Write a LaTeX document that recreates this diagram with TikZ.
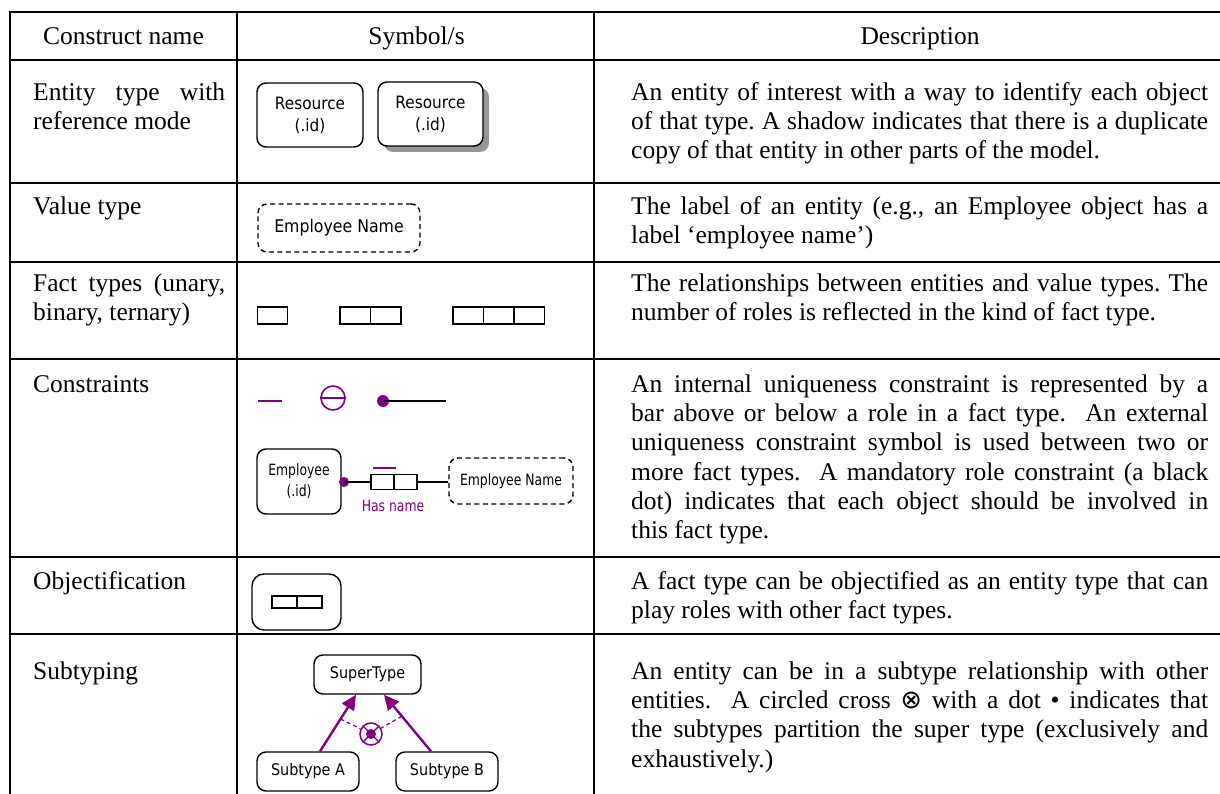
\documentclass[tikz,border=0pt]{standalone}
\usepackage{fontspec}
\setmainfont{Liberation Serif}
\newfontfamily\symf{DejaVu Sans}
\newfontfamily\symn[FakeStretch=0.9]{DejaVu Sans}
\newfontfamily\symc[FakeStretch=0.8]{DejaVu Sans}
\usetikzlibrary{arrows.meta,calc,shadows}
\definecolor{orm}{RGB}{128,0,128}
\definecolor{shade}{RGB}{150,150,150}
\begin{document}
\frenchspacing
\begin{tikzpicture}[x=1pt,y=-1pt,
  tabrule/.style={line width=2.4pt},
  txt/.style={font=\fontsize{25.5}{29.3}\selectfont\frenchspacing, inner sep=0pt},
  hdr/.style={txt, anchor=base},
  cellbox/.style={txt, anchor=north west, align=justify},
  namecell/.style={cellbox, text width=192pt},
  desccell/.style={cellbox, text width=577pt},
  objbox/.style={draw, line width=1.4pt, rounded corners=9pt, inner sep=0pt, align=center},
  ent/.style={objbox, font=\symn\fontsize{17}{22}\selectfont},
  entc/.style={objbox, font=\symc\fontsize{15.5}{21}\selectfont},
  entsub/.style={objbox, font=\symn\fontsize{16}{19}\selectfont},
  valt/.style={objbox, font=\symn\fontsize{17.5}{21}\selectfont, dash pattern=on 5pt off 3.5pt},
  valtc/.style={entc, dash pattern=on 5pt off 3.5pt},
  role/.style={draw, line width=1.4pt, inner sep=0pt, outer sep=0pt, minimum width=30.5pt, minimum height=17pt},
  rolec/.style={draw, line width=1.3pt, inner sep=0pt, outer sep=0pt, minimum width=23pt, minimum height=15pt},
  roleo/.style={draw, line width=1.3pt, inner sep=0pt, outer sep=0pt, minimum width=25pt, minimum height=12pt},
  ucbar/.style={fill=orm, inner sep=0pt, minimum height=2.6pt},
  mand/.style={circle, fill=orm, inner sep=0pt},
  conn/.style={line width=1.3pt},
  subarr/.style={draw=orm, line width=2.4pt, -{Triangle[length=15pt,width=14pt]}},
  exdash/.style={draw=orm, line width=1.2pt, dash pattern=on 4pt off 3pt}
]
\useasboundingbox (0,0) rectangle (1220,794);
% table rules
\foreach \yy in {12,60,183,262,359,557,634} \draw[tabrule] (8.8,\yy) -- (1220,\yy);
\foreach \xx in {10,237,594} \draw[tabrule] (\xx,10.8) -- (\xx,794);

% headers
\node[hdr] (h1) at (123.5,44.5) {Construct name};
\node[hdr] (h2) at (416.5,44.5) {Symbol/s};
\node[hdr] (h3) at (920,44.5) {Description};

% row 1 (first baseline 100)
\node[namecell] (n1) at (33,79.5) {\strut Entity type with\linebreak reference mode};
\node[desccell] (d1) at (631,79.5) {\strut An entity of interest with a way to identify each object\linebreak of that type. A shadow indicates that there is a duplicate\linebreak copy of that entity in other parts of the model.};
\node[ent, minimum width=106pt, minimum height=64pt] (res1) at (310,115) {Resource\\(.id)};
\node[ent, fill=white, minimum width=105pt, minimum height=64pt, drop shadow={shadow xshift=6pt, shadow yshift=-6pt, fill=shade, opacity=1}] (res2) at (430.5,114) {Resource\\(.id)};

% row 2 (baseline 214)
\node[namecell] (n2) at (33,193.5) {\strut Value type};
\node[desccell] (d2) at (631,193.5) {\strut The label of an entity (e.g., an Employee object has a\linebreak label ‘employee name’)};
\node[valt, minimum width=162pt, minimum height=48pt] (vt) at (339,228) {Employee Name};

% row 3 (baseline 291)
\node[namecell] (n3) at (33,270.5) {\strut Fact types (unary,\linebreak binary, ternary)};
\node[desccell] (d3) at (631,270.5) {\strut The relationships between entities and value types. The\linebreak number of roles is reflected in the kind of fact type.};
\node[role] (u1) at (272.5,315.5) {};
\node[role] (b1) at (355.25,315.5) {};
\node[role, anchor=west] (b2) at (b1.east) {};
\node[role] (t1) at (468.25,315.5) {};
\node[role, anchor=west] (t2) at (t1.east) {};
\node[role, anchor=west] (t3) at (t2.east) {};

% row 4 (baseline 392)
\node[namecell] (n4) at (33,371.5) {\strut Constraints};
\node[desccell] (d4) at (631,371.5) {\strut An internal uniqueness constraint is represented by a\linebreak bar above or below a role in a fact type.\ \ An external\linebreak uniqueness constraint symbol is used between two or\linebreak more fact types.\ \ A mandatory role constraint (a black\linebreak dot) indicates that each object should be involved in\linebreak this fact type.};
\node[ucbar, minimum width=24pt] (iuc) at (270,401) {};
\node[circle, draw=orm, line width=1.6pt, minimum size=24pt, inner sep=0pt] (euc) at (333,398) {};
\draw[draw=orm, line width=1.6pt] (euc.west) -- (euc.east);
\node[mand, minimum size=12pt] (mdot) at (383,401) {};
\coordinate (mend) at (446,401);
\draw[conn] (mdot.center) -- (mend);

\node[entc, minimum width=84pt, minimum height=65pt] (emp) at (299,481.5) {Employee\\(.id)};
\node[rolec] (f1) at (382.5,482) {};
\node[rolec, anchor=west] (f2) at (f1.east) {};
\node[ucbar, minimum width=23pt] (iuc2) at (384.5,468) {};
\node[valtc, minimum width=124pt, minimum height=46pt] (en2) at (511,481) {Employee Name};
\node[mand, minimum size=10pt] (md2) at (344,482) {};
\draw[conn] (md2.center) -- (f1.west);
\draw[conn] (f2.east) -- (en2.west |- f2.east);
\node[font=\symc\fontsize{15.5}{18}\selectfont, text=orm, inner sep=0pt] (hn) at (393,506) {Has name};

% row 5 (baseline 589)
\node[namecell] (n5) at (33,568.5) {\strut Objectification};
\node[desccell] (d5) at (631,568.5) {\strut A fact type can be objectified as an entity type that can\linebreak play roles with other fact types.};
\node[objbox, rounded corners=12pt, minimum width=89pt, minimum height=56pt] (objf) at (296.5,602) {};
\node[roleo] (o1) at (284.5,602) {};
\node[roleo, anchor=west] (o2) at (o1.east) {};

% row 6 (baseline 679)
\node[namecell] (n6) at (33,658.5) {\strut Subtyping};
\node[desccell] (d6) at (631,658.5) {\strut An entity can be in a subtype relationship with other\linebreak entities.\ \ A circled cross {\symf ⊗} with a dot • indicates that\linebreak the subtypes partition the super type (exclusively and\linebreak exhaustively.)};
\node[entsub, minimum width=107pt, minimum height=39pt] (sup) at (367.5,674.5) {SuperType};
\node[entsub, minimum width=102pt, minimum height=39pt] (subA) at (308,771.5) {Subtype A};
\node[entsub, minimum width=102pt, minimum height=39pt] (subB) at (447,771.5) {Subtype B};
\draw[subarr] ($(subA.north)+(12,0)$) -- coordinate[pos=0.57] (pa) ($(sup.south)+(-11.5,0)$);
\draw[subarr] ($(subB.north)+(-16,0)$) -- coordinate[pos=0.62] (pb) ($(sup.south)+(16.5,0)$);
\node[circle, draw=orm, line width=1.5pt, minimum size=22pt, inner sep=0pt] (xo) at (371,734) {};
\draw[exdash] (pa) -- (xo);
\draw[exdash] (pb) -- (xo);
\draw[draw=orm, line width=1.4pt] (xo.north west) -- (xo.south east);
\draw[draw=orm, line width=1.4pt] (xo.north east) -- (xo.south west);
\fill[orm] (xo.center) circle (5pt);
\end{tikzpicture}
\end{document}
